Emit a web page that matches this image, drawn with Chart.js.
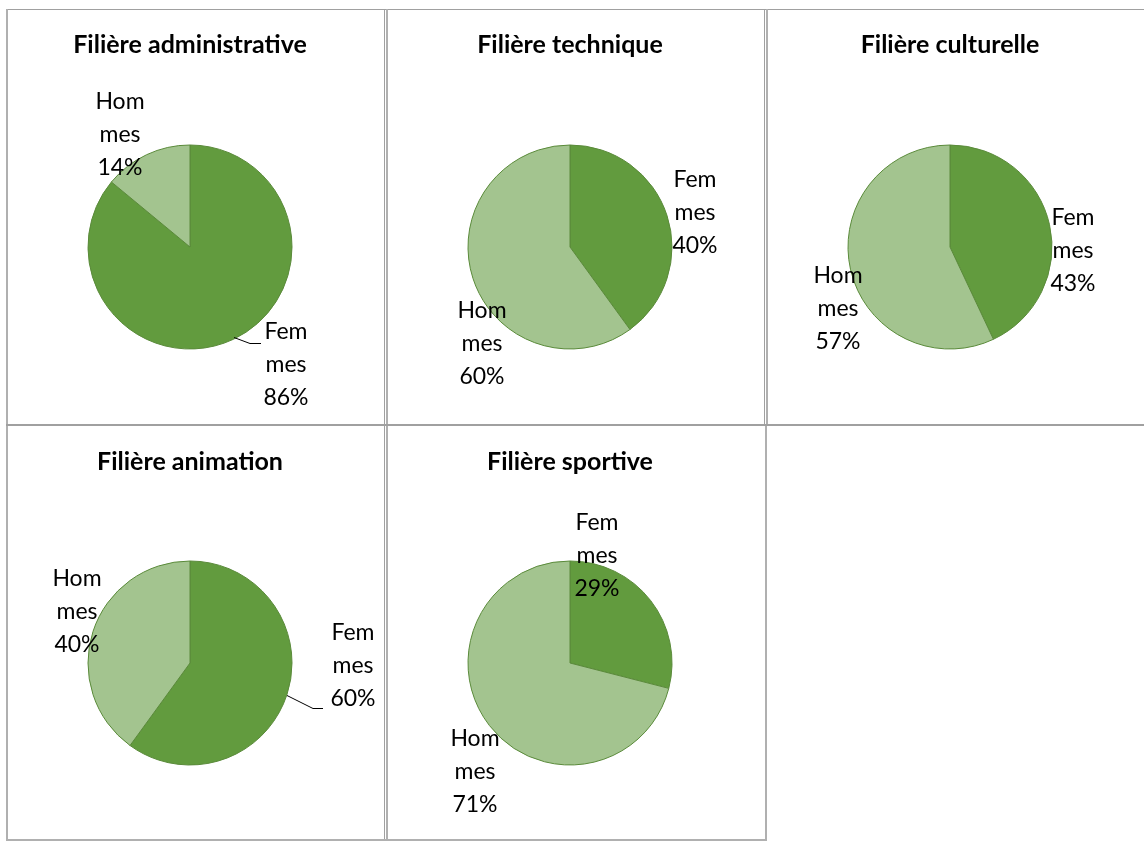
<!DOCTYPE html>
<html>
<head>
<meta charset="utf-8">
<script src="https://cdn.jsdelivr.net/npm/chart.js@4/dist/chart.umd.min.js"></script>
<style>
  html, body { margin:0; padding:0; background:#fff; width:1144px; height:841px; overflow:hidden; }
  #page { position:relative; width:1144px; height:841px; }
  .ln { position:absolute; }
  canvas { position:absolute; }
</style>
</head>
<body>
<div id="page"></div>
<script>
// ---- data ----
const titles = ["Filière administrative", "Filière technique", "Filière culturelle", "Filière animation", "Filière sportive"];
const categories = ["Femmes", "Hommes"];
const femmes = [86, 40, 43, 60, 29];
const hommes = [14, 60, 57, 40, 71];

// ---- layout (positions / styles) ----
const panels = [
  { titleX: 190, titleY: 45, cx: 190, cy: 247,
    lab: [{dx: 96, dy: 118, leader: [[44,90],[60,96],[71,96]]}, {dx: -70, dy: -112}] },
  { titleX: 576, titleY: 45, cx: 570, cy: 247,
    lab: [{dx: 125, dy: -34}, {dx: -88, dy: 97}] },
  { titleX: 956, titleY: 45, cx: 950, cy: 247,
    lab: [{dx: 123, dy: 4}, {dx: -112, dy: 62}] },
  { titleX: 199, titleY: 462, cx: 190, cy: 663,
    lab: [{dx: 163, dy: 3, leader: [[97,32],[123,45],[133,45]]}, {dx: -113, dy: -51}] },
  { titleX: 570, titleY: 462, cx: 570, cy: 663,
    lab: [{dx: 27, dy: -107}, {dx: -95, dy: 109}] }
];
const colors = ["#629B3E", "#A3C48F"];
const FONT = "Lato, 'Open Sans', sans-serif";

// grid lines of the table
const page = document.getElementById('page');
function line(x, y, w, h, c) {
  const d = document.createElement('div');
  d.className = 'ln';
  d.style.cssText = `left:${x}px;top:${y}px;width:${w}px;height:${h}px;background:${c};`;
  page.appendChild(d);
}
line(6, 9, 1138, 1, '#A0A0A0');
line(6, 9, 2, 832, '#B0B0B0');
line(384, 9, 1, 832, '#A0A0A0');
line(386, 9, 2, 832, '#B0B0B0');
line(764, 9, 1, 416, '#A0A0A0');
line(766, 9, 2, 416, '#B0B0B0');
line(765, 424, 2, 417, '#B0B0B0');
line(6, 424, 1138, 2, '#A0A0A0');
line(6, 839, 761, 2, '#B0B0B0');

const labelPlugin = {
  id: 'sliceLabels',
  afterDatasetsDraw(chart, args, opts) {
    const ctx = chart.ctx;
    const meta = chart.getDatasetMeta(0);
    const ds = chart.data.datasets[0];
    const total = ds.data.reduce((a, b) => a + b, 0);
    ctx.save();
    meta.data.forEach((arc, i) => {
      const p = opts.pos[i];
      const cx = arc.x, cy = arc.y;
      const name = chart.data.labels[i];
      const pct = Math.round(ds.data[i] / total * 100) + '%';
      const lines = [name.slice(0, 3), name.slice(3), pct];
      if (p.leader) {
        ctx.strokeStyle = '#000';
        ctx.lineWidth = 1;
        ctx.beginPath();
        p.leader.forEach((pt, k) => {
          const X = cx + pt[0], Y = cy + pt[1] + 0.5;
          if (k === 0) ctx.moveTo(X, Y); else ctx.lineTo(X, Y);
        });
        ctx.stroke();
      }
      ctx.fillStyle = '#000';
      ctx.font = `23px ${FONT}`;
      ctx.textAlign = 'center';
      ctx.textBaseline = 'middle';
      lines.forEach((t, k) => {
        ctx.fillText(t, cx + p.dx, cy + p.dy + (k - 1) * 33);
      });
    });
    ctx.restore();
  }
};

const CW = 370, CH = 430, TITLE_SIZE = 25, TITLE_LH = 1.2;
panels.forEach((p, i) => {
  const c = document.createElement('canvas');
  const left = p.titleX - CW / 2;
  const top = p.titleY - 30;
  c.style.left = left + 'px';
  c.style.top = top + 'px';
  c.style.width = CW + 'px';
  c.style.height = CH + 'px';
  c.width = CW; c.height = CH;
  page.appendChild(c);
  const padTop = 30 - TITLE_SIZE * TITLE_LH / 2;
  const titleBottom = padTop + TITLE_SIZE * TITLE_LH;
  const dx = p.cx - p.titleX;
  const padBottom = titleBottom + CH - 2 * (p.cy - top);
  new Chart(c, {
    type: 'pie',
    data: {
      labels: categories,
      datasets: [{
        data: [femmes[i], hommes[i]],
        backgroundColor: colors,
        borderColor: '#5A8A3A',
        borderWidth: 1,
        hoverOffset: 0,
        radius: 102
      }]
    },
    options: {
      responsive: false,
      animation: false,
      layout: { padding: { left: Math.max(0, 2 * dx), right: Math.max(0, -2 * dx), top: 0, bottom: padBottom } },
      plugins: {
        legend: { display: false },
        tooltip: { enabled: false },
        title: {
          display: true,
          text: titles[i],
          color: '#000',
          font: { family: FONT, size: TITLE_SIZE, weight: 'bold', lineHeight: TITLE_LH },
          padding: { top: padTop, bottom: 0 }
        },
        sliceLabels: { pos: p.lab }
      }
    },
    plugins: [labelPlugin]
  });
});
</script>
</body>
</html>
